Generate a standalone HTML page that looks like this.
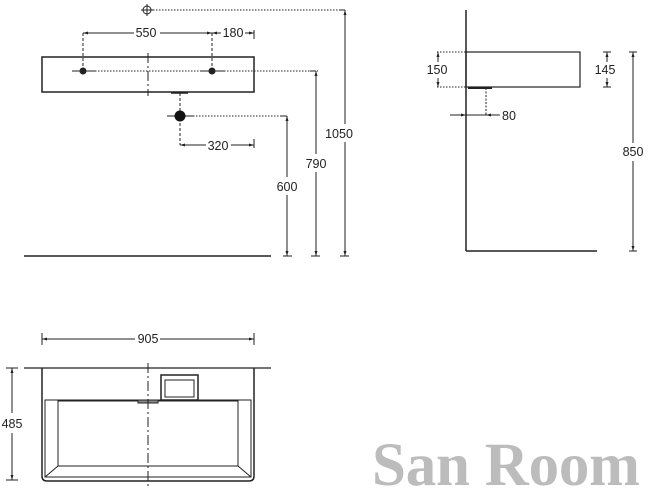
<!DOCTYPE html>
<html><head><meta charset="utf-8"><style>
html,body{margin:0;padding:0;background:#fff}
svg{display:block}
text{font-family:"Liberation Sans",sans-serif;font-size:12.5px;fill:#222}
</style></head><body>
<svg width="649" height="496" viewBox="0 0 649 496" xmlns="http://www.w3.org/2000/svg">
<defs>
<marker id="a" viewBox="0 0 10 10" refX="10" refY="5" markerWidth="6" markerHeight="5" orient="auto-start-reverse"><path d="M0,2 L10,5 L0,8 z" fill="#222"/></marker>
</defs>
<g stroke="#222" fill="none" stroke-width="1">
<rect x="42" y="57" width="212" height="35" stroke-width="1.5"/>
<line x1="148" y1="53" x2="148" y2="96" stroke-dasharray="10,3,2,3"/>
<line x1="72" y1="71" x2="95" y2="71"/><line x1="201" y1="71" x2="224" y2="71"/>
<line x1="95" y1="71" x2="318" y2="71" stroke-dasharray="1.5,1.5"/>
<line x1="83" y1="33" x2="83" y2="71" stroke-dasharray="3,2"/>
<line x1="212" y1="33" x2="212" y2="71" stroke-dasharray="3,2"/>
<line x1="83" y1="33" x2="134" y2="33" marker-start="url(#a)"/>
<line x1="160" y1="33" x2="212" y2="33" marker-end="url(#a)"/>
<line x1="212" y1="33" x2="221" y2="33" marker-start="url(#a)"/>
<line x1="245" y1="33" x2="254" y2="33" marker-end="url(#a)"/>
<line x1="254" y1="30" x2="254" y2="39"/>
<line x1="171" y1="93" x2="188" y2="93" stroke-width="1.5"/>
<line x1="167" y1="116" x2="193" y2="116"/>
<line x1="180" y1="93" x2="180" y2="145" stroke-dasharray="3,2"/>
<line x1="193" y1="116" x2="287" y2="116" stroke-dasharray="1.5,1.5"/>
<line x1="180" y1="145" x2="206" y2="145" marker-start="url(#a)"/>
<line x1="231" y1="145" x2="254" y2="145" marker-end="url(#a)"/>
<line x1="254" y1="139" x2="254" y2="148"/>
<circle cx="147" cy="10" r="4"/><line x1="141" y1="10" x2="153" y2="10"/><line x1="147" y1="4" x2="147" y2="16"/>
<line x1="153" y1="10" x2="340" y2="10" stroke-dasharray="1.5,1.5"/>
<line x1="340" y1="10" x2="345" y2="10"/>
<line x1="345" y1="10" x2="345" y2="124" marker-start="url(#a)"/>
<line x1="345" y1="142" x2="345" y2="256" marker-end="url(#a)"/>
<line x1="310" y1="71" x2="316" y2="71"/>
<line x1="316" y1="71" x2="316" y2="154" marker-start="url(#a)"/>
<line x1="316" y1="172" x2="316" y2="256" marker-end="url(#a)"/>
<line x1="281" y1="116" x2="287" y2="116"/>
<line x1="287" y1="116" x2="287" y2="177" marker-start="url(#a)"/>
<line x1="287" y1="195" x2="287" y2="256" marker-end="url(#a)"/>
<line x1="24" y1="256" x2="271" y2="256" stroke-width="1.5"/>
<line x1="283" y1="256" x2="292" y2="256"/><line x1="311" y1="256" x2="320" y2="256"/><line x1="340" y1="256" x2="349" y2="256"/>
<line x1="466" y1="10" x2="466" y2="251" stroke-width="1.5"/>
<line x1="466" y1="251" x2="597" y2="251" stroke-width="1.5"/>
<rect x="466" y="52" width="114" height="35" stroke-width="1.2"/>
<line x1="437" y1="52" x2="466" y2="52" stroke-dasharray="1.5,1.5"/>
<line x1="437" y1="87" x2="466" y2="87" stroke-dasharray="1.5,1.5"/>
<line x1="438" y1="52" x2="438" y2="62" marker-start="url(#a)"/>
<line x1="438" y1="78" x2="438" y2="87" marker-end="url(#a)"/>
<line x1="603" y1="52" x2="611" y2="52"/><line x1="603" y1="87" x2="611" y2="87"/>
<line x1="607" y1="52" x2="607" y2="62" marker-start="url(#a)"/>
<line x1="607" y1="78" x2="607" y2="87" marker-end="url(#a)"/>
<line x1="629" y1="52" x2="637" y2="52"/><line x1="629" y1="251" x2="637" y2="251"/>
<line x1="633" y1="52" x2="633" y2="143" marker-start="url(#a)"/>
<line x1="633" y1="161" x2="633" y2="251" marker-end="url(#a)"/>
<line x1="468" y1="88" x2="492" y2="88" stroke-width="2"/>
<line x1="486" y1="88" x2="486" y2="115" stroke-dasharray="2,1.5"/>
<line x1="450" y1="115" x2="466" y2="115" marker-end="url(#a)"/>
<line x1="466" y1="115" x2="486" y2="115"/>
<line x1="500" y1="115" x2="486" y2="115" marker-end="url(#a)"/>
<line x1="42" y1="333" x2="42" y2="345"/><line x1="254" y1="333" x2="254" y2="345"/>
<line x1="42" y1="339" x2="135" y2="339" marker-start="url(#a)"/>
<line x1="160" y1="339" x2="254" y2="339" marker-end="url(#a)"/>
<line x1="24" y1="368" x2="271" y2="368" stroke-width="1.2"/>
<path d="M42,368 L42,476 Q42,481 47,481 L249,481 Q254,481 254,476 L254,368" stroke-width="1.5"/>
<path d="M45,400 L251,400 L251,477 L45,477 Z" stroke-width="1"/>
<rect x="58" y="401" width="180" height="65"/>
<line x1="45" y1="477" x2="58" y2="466"/><line x1="251" y1="477" x2="238" y2="466"/>
<rect x="161" y="375" width="37" height="25" stroke-width="1.5"/>
<rect x="165" y="380" width="29" height="17"/>
<rect x="138" y="400" width="20" height="3" fill="#888"/>
<line x1="148" y1="363" x2="148" y2="488" stroke-dasharray="10,3,2,3"/>
<line x1="6" y1="368" x2="18" y2="368"/><line x1="6" y1="480" x2="18" y2="480"/>
<line x1="12" y1="368" x2="12" y2="413" marker-start="url(#a)"/>
<line x1="12" y1="433" x2="12" y2="480" marker-end="url(#a)"/>
</g>
<circle cx="83" cy="71" r="3.5" fill="#222"/>
<circle cx="212" cy="71" r="3.5" fill="#222"/>
<circle cx="180" cy="116" r="5.5" fill="#111"/>
<text x="146" y="37" text-anchor="middle">550</text>
<text x="233" y="37" text-anchor="middle">180</text>
<text x="218" y="150" text-anchor="middle">320</text>
<text x="339" y="138" text-anchor="middle">1050</text>
<text x="316" y="168" text-anchor="middle">790</text>
<text x="287" y="191" text-anchor="middle">600</text>
<text x="437" y="74" text-anchor="middle">150</text>
<text x="605" y="74" text-anchor="middle">145</text>
<text x="633" y="156" text-anchor="middle">850</text>
<text x="509" y="120" text-anchor="middle">80</text>
<text x="148" y="343" text-anchor="middle">905</text>
<text x="12" y="428" text-anchor="middle">485</text>
<text x="372" y="485" textLength="268" style="font-family:'Liberation Serif',serif;font-size:61px;font-weight:bold;fill:#bcbcbc">San Room</text>
</svg>
</body></html>
